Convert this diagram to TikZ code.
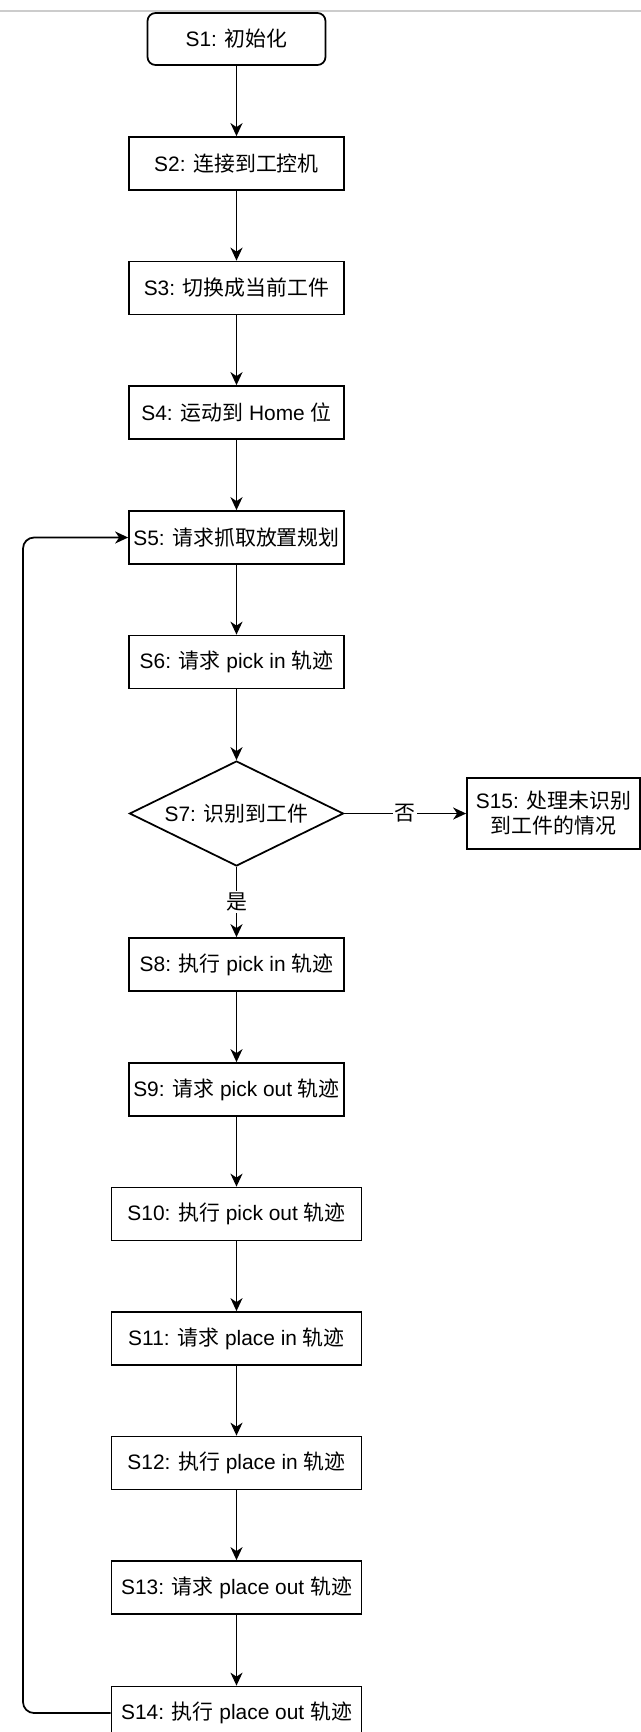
\documentclass[tikz,border=0pt]{standalone}
\usepackage{fontspec}
\setmainfont{Liberation Sans}
\newfontfamily\zh{Noto Sans CJK SC}
\usetikzlibrary{arrows.meta, shapes.geometric}

\tikzset{
  stepbox/.style={draw, line width=1pt, minimum width=4.3cm, minimum height=1.06cm, inner sep=1pt, align=center},
  widebox/.style={stepbox, minimum width=5cm},
  startbox/.style={stepbox, rounded corners=0.16cm, minimum width=3.56cm, minimum height=1.04cm},
  decision/.style={draw, line width=1pt, diamond, shape aspect=2, inner sep=0pt, minimum width=4.28cm, minimum height=2.1cm},
  flow/.style={-{Stealth[length=0.26cm, width=0.24cm, inset=0.08cm]}, line width=1pt},
  edgelabel/.style={fill=white, inner sep=1pt}
}

\begin{document}
\begin{tikzpicture}[x=0.02cm, y=-0.02cm, font=\fontsize{11.9}{14.2}\selectfont]
  \useasboundingbox (0,0) rectangle (641,1732);
  % window edge at the top
  \draw[gray!40, line width=0.6pt] (0,11) -- (641,11);

  % main column
  \node[startbox] (s1) at (236.5,39) {S1: {\zh 初始化}};
  \node[stepbox] (s2) at (236.5,163.5) {S2: {\zh 连接到工控机}};
  \node[stepbox] (s3) at (236.5,288) {S3: {\zh 切换成当前工件}};
  \node[stepbox] (s4) at (236.5,412.5) {S4: {\zh 运动到} Home {\zh 位}};
  \node[stepbox] (s5) at (236.5,537.5) {S5: {\zh 请求抓取放置规划}};
  \node[stepbox] (s6) at (236.5,662) {S6: {\zh 请求} pick in {\zh 轨迹}};
  \node[decision] (s7) at (236.5,813.5) {S7: {\zh 识别到工件}};
  \node[stepbox] (s8) at (236.5,964.5) {S8: {\zh 执行} pick in {\zh 轨迹}};
  \node[stepbox] (s9) at (236.5,1089.5) {S9: {\zh 请求} pick out {\zh 轨迹}};
  \node[widebox] (s10) at (236.5,1214) {S10: {\zh 执行} pick out {\zh 轨迹}};
  \node[widebox] (s11) at (236.5,1338.5) {S11: {\zh 请求} place in {\zh 轨迹}};
  \node[widebox] (s12) at (236.5,1463) {S12: {\zh 执行} place in {\zh 轨迹}};
  \node[widebox] (s13) at (236.5,1587.5) {S13: {\zh 请求} place out {\zh 轨迹}};
  \node[widebox] (s14) at (236.5,1713) {S14: {\zh 执行} place out {\zh 轨迹}};

  % side branch
  \node[stepbox, minimum width=3.46cm, minimum height=1.42cm] (s15) at (553.5,813.5)
    {S15: {\zh 处理未识别}\\{\zh 到工件的情况}};

  % arrows down the column
  \draw[flow] (s1) -- (s2);
  \draw[flow] (s2) -- (s3);
  \draw[flow] (s3) -- (s4);
  \draw[flow] (s4) -- (s5);
  \draw[flow] (s5) -- (s6);
  \draw[flow] (s6) -- (s7);
  \draw[flow] (s7) -- (s8) node[midway, edgelabel] (yes) {\zh 是};
  \draw[flow] (s7) -- (s15) node[midway, edgelabel] (no) {\zh 否};
  \draw[flow] (s8) -- (s9);
  \draw[flow] (s9) -- (s10);
  \draw[flow] (s10) -- (s11);
  \draw[flow] (s11) -- (s12);
  \draw[flow] (s12) -- (s13);
  \draw[flow] (s13) -- (s14);

  % loop back to S5
  \coordinate (back) at (23,1713);
  \draw[flow, rounded corners=0.22cm] (s14.west) -- (back) |- (s5.west);
\end{tikzpicture}
\end{document}
